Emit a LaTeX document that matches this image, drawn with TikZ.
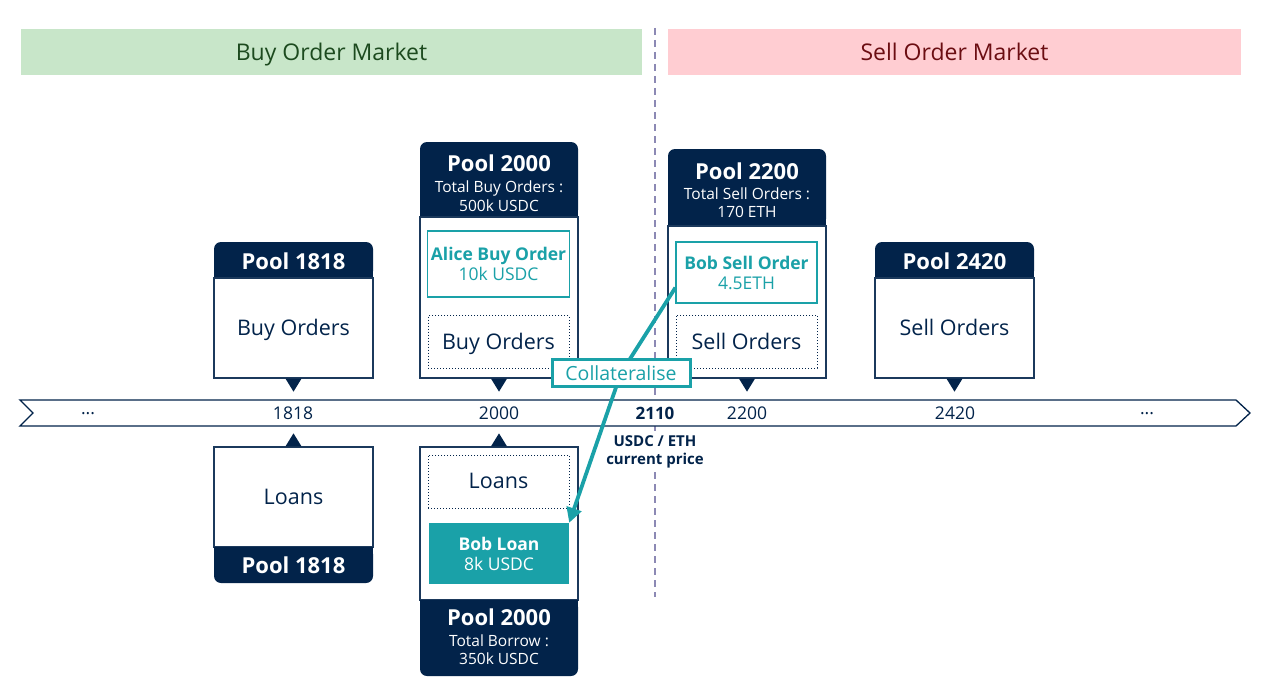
\documentclass[tikz,border=0pt]{standalone}
\usepackage{fontspec}
\setmainfont{Open Sans}
\usetikzlibrary{arrows.meta}

\definecolor{navy}{HTML}{02234A}
\definecolor{poolteal}{HTML}{1AA1A8}
\definecolor{buygreen}{HTML}{C8E6C9}
\definecolor{buytext}{HTML}{1C4A1E}
\definecolor{sellred}{HTML}{FFCDD2}
\definecolor{selltext}{HTML}{6B0D12}
\definecolor{pricedash}{HTML}{8C89B4}

\begin{document}
\begin{tikzpicture}[x=1pt,y=-1pt,
    band/.style={minimum height=46,inner sep=0pt,text depth=0pt,font=\fontsize{23}{27}\selectfont},
    ticklbl/.style={text=navy,inner sep=1pt,font=\fontsize{17.5}{20}\selectfont},
    poolbody/.style={draw=navy!90,line width=1.3pt,minimum width=159,inner sep=0pt,text depth=1pt,text=navy,font=\fontsize{21.5}{25}\selectfont},
    pooltitle/.style={text=white,inner sep=0pt,font=\bfseries\fontsize{22}{26}\selectfont},
    poolsub/.style={text=white,align=center,inner sep=0pt,font=\fontsize{15.5}{18.5}\selectfont},
    dotbox/.style={draw=navy,dotted,line width=1pt,minimum width=141,minimum height=53,text depth=1pt,text=navy,font=\fontsize{21.5}{25}\selectfont},
    orderbox/.style={draw=poolteal,line width=1.2pt,fill=white,minimum width=141,align=center,text=poolteal,font=\fontsize{17.5}{20}\selectfont},
    loanbox/.style={fill=poolteal,minimum width=140,minimum height=61,align=center,text=white,font=\fontsize{17.5}{20}\selectfont},
    collarrow/.style={draw=poolteal,line width=3.8pt,-{Triangle[length=15pt,width=15pt]}},
    ]
    \useasboundingbox (0,0) rectangle (1267,693);

    % market bands
    \node[band,fill=buygreen,text=buytext,minimum width=621] (buyband) at (331.5,52) {Buy Order Market};
    \node[band,fill=sellred,text=selltext,minimum width=573] (sellband) at (954.5,52) {Sell Order Market};

    % current price line
    \draw[pricedash,line width=1.2pt,dash pattern=on 7pt off 5pt] (655,28) -- (655,597);

    % price axis
    \draw[navy,line width=1.3pt,fill=white] (20,400) -- (1236,400) -- (1250,413) -- (1236,426) -- (20,426) -- (33,413) -- cycle;
    \node[ticklbl] (tleft) at (88,414) {...};
    \node[ticklbl] (tright) at (1147,414) {...};
    \foreach \x/\lbl in {293/1818, 499/2000, 747/2200, 955/2420}
        \node[ticklbl] (t\lbl) at (\x,413) {\lbl};
    \node[ticklbl,font=\bfseries\fontsize{17}{20}\selectfont] (t2110) at (655,413) {2110};
    \node[fill=white,text=navy,align=center,inner sep=2pt,font=\bfseries\fontsize{15}{18}\selectfont] (price) at (655,452) {USDC / ETH\\current price};

    % pool 1818, buy side
    \fill[navy,rounded corners=7] (214,242) rectangle (373,278);
    \fill[navy] (214,262) rectangle (373,278);
    \node[pooltitle] (h1818) at (293.5,261) {Pool 1818};
    \node[poolbody,minimum height=100] (b1818) at (293.5,328) {Buy Orders};
    \fill[navy] (b1818.south) ++(-8,0) -- ++(16,0) -- ++(-8,13) -- cycle;

    % pool 1818, loan side
    \node[poolbody,minimum height=100] (l1818) at (293.5,497) {Loans};
    \fill[navy,rounded corners=7] (214,547) rectangle (373,583);
    \fill[navy] (214,547) rectangle (373,565);
    \node[pooltitle] (f1818) at (293.5,565) {Pool 1818};
    \fill[navy] (l1818.north) ++(-8,0) -- ++(16,0) -- ++(-8,-13) -- cycle;

    % pool 2000, buy side
    \fill[navy,rounded corners=7] (420,142) rectangle (578,217);
    \fill[navy] (420,200) rectangle (578,217);
    \node[pooltitle] (h2000) at (499,163) {Pool 2000};
    \node[poolsub] (s2000) at (499,196) {Total Buy Orders :\\500k USDC};
    \node[poolbody,minimum width=158,minimum height=161] (b2000) at (499,297.5) {};
    \node[orderbox,minimum height=66] (alice) at (498.5,264) {\textbf{Alice Buy Order}\\10k USDC};
    \node[dotbox] (buy2000) at (498.5,342) {Buy Orders};
    \fill[navy] (b2000.south) ++(-8,0) -- ++(16,0) -- ++(-8,13) -- cycle;

    % pool 2000, loan side
    \node[poolbody,minimum width=158,minimum height=153] (l2000) at (499,523.5) {};
    \node[dotbox] (loans2000) at (498.5,481.5) {Loans};
    \node[loanbox] (bobloan) at (499,553.5) {\textbf{Bob Loan}\\8k USDC};
    \fill[navy,rounded corners=7] (420,600) rectangle (578,676);
    \fill[navy] (420,600) rectangle (578,620);
    \node[pooltitle] (f2000) at (499,617) {Pool 2000};
    \node[poolsub] (fs2000) at (499,649.5) {Total Borrow :\\350k USDC};
    \fill[navy] (l2000.north) ++(-8,0) -- ++(16,0) -- ++(-8,-13) -- cycle;

    % pool 2200, sell side
    \fill[navy,rounded corners=7] (668,149) rectangle (826,226);
    \fill[navy] (668,205) rectangle (826,226);
    \node[pooltitle] (h2200) at (747,171) {Pool 2200};
    \node[poolsub] (s2200) at (747,202.5) {Total Sell Orders :\\170 ETH};
    \node[poolbody,minimum width=158,minimum height=152] (b2200) at (747,302) {};
    \node[orderbox,minimum height=61] (bobsell) at (746.5,272.5) {\textbf{Bob Sell Order}\\4.5ETH};
    \node[dotbox] (sell2200) at (746.5,341.5) {Sell Orders};
    \fill[navy] (b2200.south) ++(-8,0) -- ++(16,0) -- ++(-8,13) -- cycle;

    % pool 2420, sell side
    \fill[navy,rounded corners=7] (875,242) rectangle (1034,278);
    \fill[navy] (875,262) rectangle (1034,278);
    \node[pooltitle] (h2420) at (954.5,261) {Pool 2420};
    \node[poolbody,minimum height=100] (b2420) at (954.5,328) {Sell Orders};
    \fill[navy] (b2420.south) ++(-8,0) -- ++(16,0) -- ++(-8,13) -- cycle;

    % collateral flow
    \coordinate (collpos) at (621,373);
    \draw[collarrow] (bobsell.192) -- (collpos) -- (bobloan.north east);
    \node[draw=poolteal,line width=3pt,fill=white,minimum width=138,minimum height=27,inner sep=0pt,text=poolteal,font=\fontsize{19.5}{22}\selectfont] (coll) at (collpos) {Collateralise};
\end{tikzpicture}
\end{document}
